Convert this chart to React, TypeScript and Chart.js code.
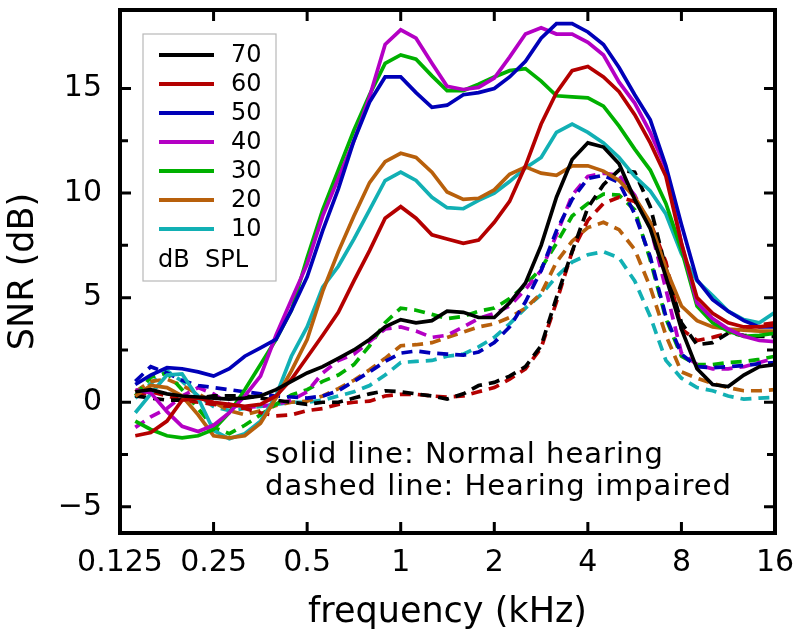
import { useEffect, useRef } from "react";
import { Chart, registerables } from "chart.js";

Chart.register(...registerables);

// 1/6-octave analysis frequencies (kHz)
const freqs = [
  0.14, 0.157, 0.177, 0.198, 0.223, 0.25, 0.281, 0.315, 0.354, 0.397, 0.445, 0.5,
  0.561, 0.63, 0.707, 0.794, 0.891, 1.0, 1.12, 1.26, 1.41, 1.59, 1.78, 2.0, 2.24,
  2.52, 2.83, 3.17, 3.56, 4.0, 4.49, 5.04, 5.66, 6.35, 7.13, 8.0, 8.98, 10.08,
  11.31, 12.7, 14.25, 16.0,
];

const levels = ["70", "60", "50", "40", "30", "20", "10"];
const levelColors = ["#000000", "#b40000", "#0000b8", "#b400c4", "#00b000", "#b8600c", "#12b0b4"];

// Normal hearing (solid)
const normal70 = [0.5, 0.6, 0.4, 0.3, 0.25, 0.2, 0.15, 0.2, 0.3, 0.6, 1.0, 1.4, 1.7, 2.1, 2.5, 3.0, 3.6, 3.95, 3.8, 3.9, 4.35, 4.3, 4.05, 4.05, 4.75, 5.7, 7.5, 9.8, 11.6, 12.4, 12.2, 11.4, 9.7, 8.3, 6.0, 3.5, 1.6, 0.85, 0.75, 1.3, 1.7, 1.8];
const normal60 = [-1.6, -1.45, -0.9, 0.1, 0.2, 0.0, -0.1, -0.2, -0.1, 0.3, 1.1, 2.15, 3.2, 4.3, 5.8, 7.25, 8.8, 9.35, 8.8, 8.0, 7.8, 7.6, 7.75, 8.6, 9.6, 11.3, 13.3, 14.8, 15.85, 16.05, 15.55, 14.85, 13.75, 12.4, 10.8, 7.6, 5.0, 4.25, 3.8, 3.6, 3.6, 3.7];
const normal50 = [0.85, 1.3, 1.65, 1.6, 1.45, 1.25, 1.6, 2.2, 2.6, 3.0, 4.4, 6.0, 8.2, 10.2, 12.5, 14.35, 15.55, 15.55, 14.8, 14.1, 14.2, 14.7, 14.8, 15.0, 15.55, 16.3, 17.4, 18.1, 18.1, 17.7, 17.1, 16.0, 14.7, 13.5, 11.3, 8.5, 5.85, 4.9, 4.35, 3.9, 3.6, 3.6];
const normal40 = [0.6, 0.45, -0.45, -1.15, -1.4, -1.1, -0.5, 0.3, 1.25, 3.2, 4.9, 6.6, 8.9, 10.7, 12.5, 14.6, 17.1, 17.8, 17.4, 16.2, 15.1, 14.95, 15.05, 15.5, 16.5, 17.6, 17.9, 17.6, 17.6, 17.2, 16.6, 15.3, 14.3, 12.9, 11.2, 7.6, 4.75, 4.0, 3.5, 3.15, 2.95, 2.9];
const normal30 = [-0.9, -1.3, -1.6, -1.7, -1.6, -1.3, -0.5, 0.6, 1.8, 3.0, 4.4, 6.9, 9.2, 11.1, 13.0, 14.7, 16.2, 16.6, 16.4, 15.6, 14.9, 14.9, 15.2, 15.55, 15.85, 15.95, 15.35, 14.65, 14.6, 14.55, 14.15, 13.2, 12.1, 11.1, 9.5, 7.3, 4.6, 3.8, 3.4, 3.15, 3.2, 3.3];
const normal20 = [0.3, 0.8, 0.7, 0.3, -0.6, -1.6, -1.7, -1.6, -1.0, 0.2, 1.5, 3.0, 5.3, 7.2, 8.9, 10.5, 11.5, 11.9, 11.7, 11.0, 10.05, 9.7, 9.75, 10.15, 10.9, 11.25, 10.95, 10.85, 11.3, 11.3, 11.05, 10.6, 9.8, 8.6, 6.4, 4.6, 3.9, 3.6, 3.5, 3.45, 3.4, 3.4];
const normal10 = [-0.5, 0.4, 1.3, 1.35, 0.2, -1.35, -1.75, -1.5, -0.9, 0.3, 2.2, 3.6, 5.5, 6.5, 7.8, 9.2, 10.6, 11.0, 10.6, 9.8, 9.3, 9.25, 9.65, 10.0, 10.55, 11.2, 11.7, 12.9, 13.3, 12.9, 12.4, 11.7, 10.8, 10.1, 9.0, 7.1, 5.8, 5.1, 4.35, 3.95, 3.8, 4.3];

// Hearing impaired (dashed)
const impaired70 = [0.3, 0.2, 0.1, 0.1, 0.2, 0.3, 0.3, 0.3, 0.2, 0.1, 0.0, -0.1, 0.0, 0.0, 0.2, 0.4, 0.55, 0.5, 0.4, 0.3, 0.15, 0.4, 0.8, 0.95, 1.25, 1.7, 2.7, 5.0, 7.2, 9.3, 10.4, 11.1, 11.0, 9.35, 6.4, 3.8, 2.75, 2.85, 3.3, 3.2, 3.15, 3.15];
const impaired60 = [0.3, 0.5, 0.3, 0.1, 0.0, -0.1, -0.2, -0.3, -0.5, -0.65, -0.6, -0.4, -0.3, -0.1, 0.0, 0.05, 0.3, 0.38, 0.38, 0.3, 0.25, 0.3, 0.5, 0.7, 1.1, 1.6, 2.6, 4.8, 7.2, 8.7, 9.5, 9.8, 9.6, 8.6, 6.7, 3.5, 2.95, 3.1, 3.3, 3.5, 3.7, 3.8];
const impaired50 = [1.0, 1.7, 1.4, 1.05, 0.8, 0.7, 0.6, 0.5, 0.4, 0.3, 0.25, 0.2, 0.3, 0.55, 1.0, 1.45, 1.95, 2.35, 2.45, 2.35, 2.3, 2.25, 2.4, 2.85, 3.6, 4.8, 6.3, 8.2, 9.7, 10.7, 10.85, 10.5, 9.0, 6.95, 4.1, 2.3, 1.7, 1.65, 1.7, 1.75, 1.85, 1.9];
const impaired40 = [-1.2, -0.7, -0.3, 0.3, 0.7, 0.4, -0.1, -0.25, -0.2, -0.1, 0.1, 0.5, 1.4, 2.0, 2.3, 2.9, 3.5, 3.6, 3.4, 3.1, 3.2, 3.6, 4.0, 4.25, 4.6, 5.4, 6.3, 8.0, 9.9, 10.8, 10.95, 10.85, 9.9, 8.4, 5.4, 2.35, 1.8, 1.6, 1.6, 1.7, 1.9, 2.1];
const impaired30 = [0.3, 1.2, 1.4, 0.6, -0.3, -1.2, -1.5, -1.1, -0.6, -0.1, 0.35, 0.6, 1.0, 1.3, 1.8, 2.7, 3.8, 4.5, 4.4, 4.2, 4.0, 4.1, 4.35, 4.5, 4.95, 5.6, 6.4, 7.6, 8.9, 9.5, 9.95, 9.9, 9.2, 6.8, 4.0, 2.2, 1.8, 1.8, 1.9, 1.95, 2.05, 2.2];
const impaired20 = [0.5, 1.0, 1.1, 0.8, 0.4, 0.0, -0.4, -0.6, -0.4, -0.15, 0.0, 0.05, 0.3, 0.65, 1.05, 1.55, 2.1, 2.7, 2.75, 2.85, 3.1, 3.35, 3.6, 3.75, 4.05, 4.5, 5.2, 6.7, 7.7, 8.35, 8.6, 8.25, 7.3, 5.5, 3.2, 1.45, 1.15, 0.9, 0.7, 0.55, 0.55, 0.6];
const impaired10 = [0.2, 0.9, 1.5, 1.0, 0.3, -0.2, -0.4, -0.3, -0.2, -0.1, 0.0, 0.0, 0.1, 0.3, 0.5, 0.8, 1.3, 1.9, 1.95, 2.0, 2.2, 2.3, 2.65, 3.1, 3.75, 4.5, 5.15, 6.0, 6.7, 7.05, 7.2, 6.9, 5.8, 4.1, 2.0, 1.15, 0.7, 0.55, 0.3, 0.15, 0.2, 0.24];

const normalSeries = [normal70, normal60, normal50, normal40, normal30, normal20, normal10];
const impairedSeries = [impaired70, impaired60, impaired50, impaired40, impaired30, impaired20, impaired10];

const xTicks = [0.125, 0.25, 0.5, 1, 2, 4, 8, 16];
const xTickLabels = ["0.125", "0.25", "0.5", "1", "2", "4", "8", "16"];
const yTicks = [-5, 0, 5, 10, 15];
const yTickLabels = ["\u22125", "0", "5", "10", "15"];
const yMinorTicks = [-2.5, 2.5, 7.5, 12.5];

const FONT = "'DejaVu Sans', sans-serif";

const framePlugin = {
  id: "frame",
  afterDatasetsDraw(chart: any) {
    const { ctx, chartArea: a, scales } = chart;
    const xs = scales.x;
    const ys = scales.y;
    ctx.save();
    ctx.strokeStyle = "#000";
    ctx.lineWidth = 3;
    ctx.beginPath();
    xTicks.forEach((v) => {
      const px = xs.getPixelForValue(v);
      if (px > a.left + 3 && px < a.right - 3) {
        ctx.moveTo(px, a.bottom);
        ctx.lineTo(px, a.bottom - 11);
        ctx.moveTo(px, a.top);
        ctx.lineTo(px, a.top + 11);
      }
    });
    yTicks.forEach((v) => {
      const py = ys.getPixelForValue(v);
      ctx.moveTo(a.left, py);
      ctx.lineTo(a.left + 11, py);
      ctx.moveTo(a.right, py);
      ctx.lineTo(a.right - 11, py);
    });
    yMinorTicks.forEach((v) => {
      const py = ys.getPixelForValue(v);
      ctx.moveTo(a.left, py);
      ctx.lineTo(a.left + 8, py);
      ctx.moveTo(a.right, py);
      ctx.lineTo(a.right - 8, py);
    });
    ctx.stroke();
    ctx.lineWidth = 4;
    ctx.strokeRect(a.left, a.top, a.right - a.left, a.bottom - a.top);

    // legend box
    ctx.lineWidth = 1.2;
    ctx.strokeStyle = "#b8b8b8";
    ctx.fillStyle = "#ffffff";
    ctx.fillRect(143, 34, 133, 247);
    ctx.strokeRect(143, 34, 133, 247);
    ctx.font = `24px ${FONT}`;
    ctx.textBaseline = "middle";
    ctx.textAlign = "left";
    levels.forEach((lab, i) => {
      const yy = 55 + i * 29;
      ctx.strokeStyle = levelColors[i];
      ctx.lineWidth = 4;
      ctx.beginPath();
      ctx.moveTo(159, yy);
      ctx.lineTo(214, yy);
      ctx.stroke();
      ctx.fillStyle = "#000";
      ctx.fillText(lab, 231, yy + 1);
    });
    ctx.fillText("dB  SPL", 158, 261);

    // annotation
    ctx.font = `29px ${FONT}`;
    ctx.textBaseline = "alphabetic";
    (ctx as any).letterSpacing = "1px";
    ctx.fillText("solid line: Normal hearing", 265, 463);
    ctx.fillText("dashed line: Hearing impaired", 265, 495);
    ctx.restore();
  },
};

const zeroPad = (s: any) => {
  s.paddingTop = 0;
  s.paddingBottom = 0;
  s.paddingLeft = 0;
  s.paddingRight = 0;
};

export default function App() {
  const canvasRef = useRef<HTMLCanvasElement | null>(null);

  useEffect(() => {
    if (!canvasRef.current) return;
    Chart.defaults.font.family = FONT;
    const datasets: any[] = [];
    normalSeries.forEach((s, i) => {
      datasets.push({
        label: levels[i] + " normal",
        data: freqs.map((f, j) => ({ x: f, y: s[j] })),
        borderColor: levelColors[i],
        borderWidth: 3.7,
        pointRadius: 0,
        fill: false,
        tension: 0,
      });
    });
    impairedSeries.forEach((s, i) => {
      datasets.push({
        label: levels[i] + " impaired",
        data: freqs.map((f, j) => ({ x: f, y: s[j] })),
        borderColor: levelColors[i],
        borderWidth: 3.7,
        borderDash: [11, 7],
        pointRadius: 0,
        fill: false,
        tension: 0,
      });
    });

    const chart = new Chart(canvasRef.current, {
      type: "line",
      data: { datasets },
      options: {
        animation: false,
        responsive: true,
        maintainAspectRatio: false,
        layout: { padding: { top: 10, right: 25, left: 0, bottom: 0 } },
        plugins: { legend: { display: false }, tooltip: { enabled: false } },
        scales: {
          x: {
            type: "logarithmic",
            min: 0.125,
            max: 16,
            grid: { display: false, drawTicks: false },
            border: { display: false },
            afterBuildTicks: (s: any) => {
              s.ticks = xTicks.map((v) => ({ value: v }));
            },
            afterFit: (s: any) => {
              s.height = 101;
              zeroPad(s);
            },
            ticks: {
              autoSkip: false,
              maxRotation: 0,
              minRotation: 0,
              padding: 12,
              color: "#000",
              font: { family: FONT, size: 30 },
              callback: (_v: any, i: number) => xTickLabels[i],
            },
            title: {
              display: true,
              text: "frequency (kHz)",
              color: "#000",
              font: { family: FONT, size: 35 },
              padding: { top: 13, bottom: 0 },
            },
          },
          y: {
            type: "linear",
            min: -6.25,
            max: 18.75,
            grid: { display: false, drawTicks: false },
            border: { display: false },
            afterBuildTicks: (s: any) => {
              s.ticks = yTicks.map((v) => ({ value: v }));
            },
            afterFit: (s: any) => {
              s.width = 120;
              zeroPad(s);
            },
            ticks: {
              padding: 18,
              color: "#000",
              font: { family: FONT, size: 30 },
              callback: (_v: any, i: number) => yTickLabels[i],
            },
            title: {
              display: true,
              text: "SNR (dB)",
              color: "#000",
              font: { family: FONT, size: 35 },
              padding: { top: 3, bottom: 0 },
            },
          },
        },
      } as any,
      plugins: [framePlugin],
    });
    return () => chart.destroy();
  }, []);

  return (
    <div style={{ position: "fixed", left: 0, top: 0, width: 800, height: 634, background: "#fff" }}>
      <canvas ref={canvasRef} />
    </div>
  );
}
